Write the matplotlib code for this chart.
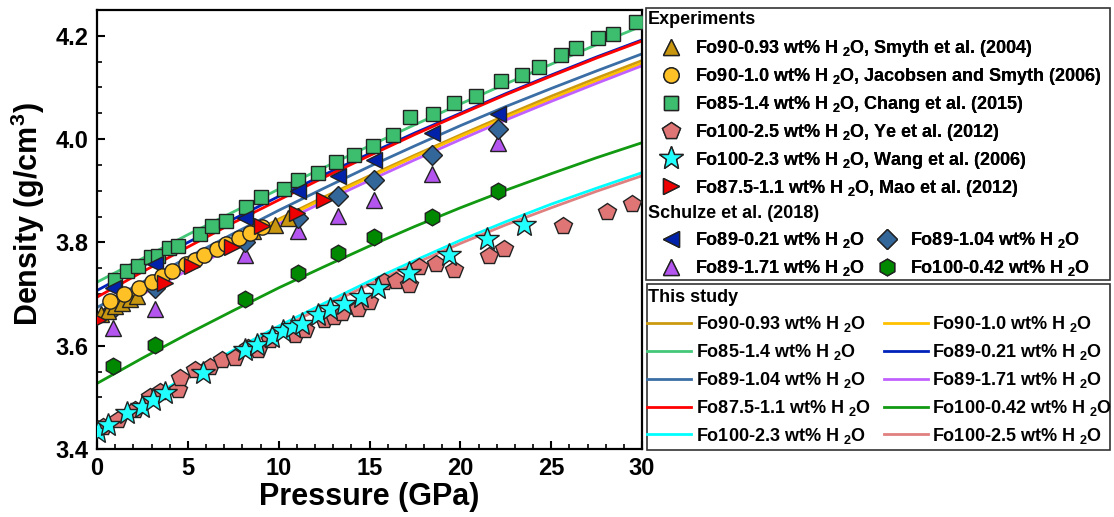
import matplotlib
matplotlib.use('Agg')
import matplotlib.pyplot as plt
from matplotlib.patches import Rectangle

plt.rcParams['font.family'] = ['Liberation Sans', 'DejaVu Sans']
plt.rcParams['font.weight'] = 'bold'
plt.rcParams['mathtext.fontset'] = 'custom'
plt.rcParams['mathtext.rm'] = 'Liberation Sans:bold'
plt.rcParams['mathtext.bf'] = 'Liberation Sans:bold'
plt.rcParams['mathtext.default'] = 'bf'

smyth_p = [0.2, 0.6, 1.0, 1.4, 1.8, 2.2, 8.6, 9.8, 10.5]
smyth_d = [3.662, 3.668, 3.676, 3.683, 3.690, 3.697, 3.823, 3.833, 3.848]

jac_p = [0.7, 1.5, 2.3, 3.0, 3.6, 4.1, 4.9, 5.4, 5.9, 6.6, 7.1, 7.8, 8.4, 9.1]
jac_d = [3.687, 3.700, 3.712, 3.724, 3.735, 3.744, 3.758, 3.766, 3.775,
         3.787, 3.796, 3.808, 3.818, 3.830]

chang_p = [0.99, 1.65, 2.26, 2.98, 3.36, 3.97, 4.47, 5.68, 6.34, 7.12, 8.22,
           9.05, 10.31, 11.09, 12.14, 13.18, 14.12, 15.17, 16.27, 17.21, 18.48,
           19.64, 20.85, 22.23, 23.39, 24.33, 25.54, 26.37, 27.58, 28.41, 29.68]
chang_d = [3.727, 3.744, 3.754, 3.771, 3.773, 3.790, 3.794, 3.817, 3.831,
           3.841, 3.868, 3.887, 3.904, 3.920, 3.935, 3.955, 3.970, 3.987,
           4.007, 4.042, 4.048, 4.069, 4.084, 4.113, 4.125, 4.140, 4.163,
           4.177, 4.196, 4.204, 4.227]

ye_p = [0.33, 1.16, 2.10, 2.92, 3.47, 4.47, 4.58, 5.41, 6.23, 6.89, 7.61,
        8.33, 8.88, 9.54, 10.92, 11.47, 12.47, 13.02, 13.51, 14.34, 14.95,
        15.77, 16.44, 17.15, 17.71, 18.64, 19.64, 21.57, 22.39, 25.65, 28.08,
        29.45]
ye_d = [3.443, 3.456, 3.475, 3.500, 3.510, 3.514, 3.537, 3.553, 3.558,
        3.572, 3.576, 3.595, 3.591, 3.611, 3.620, 3.630, 3.649, 3.655,
        3.663, 3.672, 3.684, 3.723, 3.725, 3.717, 3.752, 3.759, 3.746,
        3.773, 3.788, 3.831, 3.858, 3.875]

wang_p = [0.06, 0.61, 1.65, 2.48, 3.09, 3.75, 5.85, 8.16, 8.83, 9.65, 10.26,
          10.81, 11.31, 12.19, 12.85, 13.57, 14.51, 15.45, 17.16, 19.36,
          21.46, 23.5]
wang_d = [3.433, 3.446, 3.469, 3.481, 3.495, 3.508, 3.547, 3.591, 3.601,
          3.616, 3.628, 3.636, 3.643, 3.659, 3.671, 3.680, 3.694, 3.711,
          3.740, 3.775, 3.806, 3.833]

mao_p = [0.05, 3.75, 5.24, 7.45, 9.1, 11.03, 12.47]
mao_d = [3.649, 3.721, 3.754, 3.792, 3.831, 3.856, 3.883]

schulze_p = [0.88, 3.2, 8.16, 11.06, 13.26, 15.25, 18.42, 22.09]
s021_d = [3.711, 3.759, 3.848, 3.900, 3.929, 3.960, 4.011, 4.049]
s104_d = [3.671, 3.711, 3.800, 3.848, 3.889, 3.920, 3.970, 4.020]
s171_d = [3.634, 3.672, 3.775, 3.823, 3.852, 3.883, 3.933, 3.993]
s042_d = [3.560, 3.601, 3.690, 3.740, 3.779, 3.810, 3.850, 3.899]

# ---- this study curves (read every 2.5 GPa) ----
calc_p = [0, 2.5, 5, 7.5, 10, 12.5, 15, 17.5, 20, 22.5, 25, 27.5, 30]
c_fo90_093 = [3.662, 3.710, 3.756, 3.801, 3.845, 3.888, 3.929, 3.969, 4.008,
              4.046, 4.083, 4.118, 4.152]
c_fo90_10 = [3.660, 3.708, 3.754, 3.799, 3.842, 3.885, 3.926, 3.966, 4.005,
             4.042, 4.078, 4.113, 4.147]
c_fo85_14 = [3.723, 3.769, 3.815, 3.859, 3.903, 3.945, 3.987, 4.028, 4.068,
             4.107, 4.145, 4.183, 4.219]
c_fo89_021 = [3.707, 3.754, 3.800, 3.845, 3.889, 3.931, 3.972, 4.012, 4.050,
              4.088, 4.124, 4.159, 4.192]
c_fo89_104 = [3.674, 3.723, 3.771, 3.817, 3.862, 3.905, 3.947, 3.987, 4.026,
              4.063, 4.098, 4.132, 4.165]
c_fo89_171 = [3.652, 3.700, 3.746, 3.792, 3.836, 3.879, 3.920, 3.960, 3.999,
              4.037, 4.073, 4.108, 4.142]
c_fo875_11 = [3.694, 3.743, 3.791, 3.838, 3.882, 3.926, 3.968, 4.009, 4.048,
              4.086, 4.122, 4.157, 4.190]
c_fo100_042 = [3.527, 3.576, 3.623, 3.668, 3.712, 3.753, 3.793, 3.831, 3.867,
               3.901, 3.933, 3.964, 3.993]
c_fo100_23 = [3.437, 3.490, 3.542, 3.591, 3.638, 3.682, 3.725, 3.765, 3.804,
              3.840, 3.874, 3.905, 3.935]
c_fo100_25 = [3.432, 3.485, 3.537, 3.585, 3.632, 3.676, 3.719, 3.759, 3.798,
              3.834, 3.867, 3.899, 3.929]

H2O = 'H $_2$O'

fig = plt.figure(figsize=(11.14, 5.17), dpi=100)
ax = fig.add_axes([0.0871, 0.1315, 0.4892, 0.8492])

line_specs = [
    (c_fo90_093, '#CC9A10', 'Fo90-0.93 wt% ' + H2O),
    (c_fo90_10, '#FFC000', 'Fo90-1.0 wt% ' + H2O),
    (c_fo85_14, '#44C878', 'Fo85-1.4 wt% ' + H2O),
    (c_fo89_021, '#0022BB', 'Fo89-0.21 wt% ' + H2O),
    (c_fo89_104, '#3A6EA5', 'Fo89-1.04 wt% ' + H2O),
    (c_fo89_171, '#C060FF', 'Fo89-1.71 wt% ' + H2O),
    (c_fo875_11, '#FF0000', 'Fo87.5-1.1 wt% ' + H2O),
    (c_fo100_042, '#119911', 'Fo100-0.42 wt% ' + H2O),
    (c_fo100_23, '#00FFFF', 'Fo100-2.3 wt% ' + H2O),
    (c_fo100_25, '#E08080', 'Fo100-2.5 wt% ' + H2O),
]
line_handles = []
for vals, col, lab in line_specs:
    h, = ax.plot(calc_p, vals, color=col, lw=2, label=lab, zorder=2)
    line_handles.append(h)

mk = dict(linestyle='none', markeredgecolor='#222222', markeredgewidth=1, zorder=3)
h_ye, = ax.plot(ye_p, ye_d, marker='p', ms=13, color='#E07575',
                label='Fo100-2.5 wt% ' + H2O + ', Ye et al. (2012)', **mk)
h_wang, = ax.plot(wang_p, wang_d, marker='*', ms=18, color='#22FFFF',
                  label='Fo100-2.3 wt% ' + H2O + ', Wang et al. (2006)', **mk)
h_chang, = ax.plot(chang_p, chang_d, marker='s', ms=10, color='#3DBE6E',
                   label='Fo85-1.4 wt% ' + H2O + ', Chang et al. (2015)', **mk)
h_s042, = ax.plot(schulze_p, s042_d, marker='h', ms=12, color='#008800',
                  label='Fo100-0.42 wt% ' + H2O, **mk)
h_s171, = ax.plot(schulze_p, s171_d, marker='^', ms=12, color='#B455F0',
                  label='Fo89-1.71 wt% ' + H2O, **mk)
h_s104, = ax.plot(schulze_p, s104_d, marker='D', ms=10, color='#336699',
                  label='Fo89-1.04 wt% ' + H2O, **mk)
h_s021, = ax.plot(schulze_p, s021_d, marker='<', ms=12, color='#0022AA',
                  label='Fo89-0.21 wt% ' + H2O, **mk)
h_smyth, = ax.plot(smyth_p, smyth_d, marker='^', ms=12, color='#C8960F',
                   label='Fo90-0.93 wt% ' + H2O + ', Smyth et al. (2004)', **mk)
h_jac, = ax.plot(jac_p, jac_d, marker='o', ms=11, color='#FFC125',
                 label='Fo90-1.0 wt% ' + H2O + ', Jacobsen and Smyth (2006)', **mk)
h_mao, = ax.plot(mao_p, mao_d, marker='>', ms=12, color='#EE0000',
                 label='Fo87.5-1.1 wt% ' + H2O + ', Mao et al. (2012)', **mk)

ax.set_xlim(0, 30)
ax.set_ylim(3.4, 4.25)
ax.set_xticks([0, 5, 10, 15, 20, 25, 30])
ax.set_yticks([3.4, 3.6, 3.8, 4.0, 4.2])
ax.set_yticklabels(['3.4', '3.6', '3.8', '4.0', '4.2'])
ax.set_xticks(range(0, 31), minor=True)
ax.set_yticks([3.4 + 0.05 * i for i in range(17)], minor=True)
ax.tick_params(which='major', direction='in', length=6, width=1.5,
               labelsize=17, pad=6, top=False, right=False)
ax.tick_params(which='minor', direction='in', length=3.5, width=1.2,
               top=False, right=False)
for s in ax.spines.values():
    s.set_linewidth(1.6)
ax.set_xlabel('Pressure (GPa)', fontsize=22, fontweight='bold', labelpad=1)
ax.set_ylabel('Density (g/cm$^3$)', fontsize=22, fontweight='bold')
ax.yaxis.set_label_coords(-0.092, 0.535)

# ---- legends ----
fs = 13
W, Hpx = 1114, 517
hdr = dict(fontsize=fs, fontweight='bold', ha='left', va='center')
fig.text(648 / W, 1 - 20 / Hpx, 'Experiments', **hdr)
fig.text(648 / W, 1 - 213 / Hpx, 'Schulze et al. (2018)', **hdr)
fig.text(648 / W, 1 - 298 / Hpx, 'This study', **hdr)

mleg = dict(loc='upper left', frameon=False, fontsize=fs, borderpad=0,
            borderaxespad=0, handlelength=1.6, handletextpad=0.5)
legA = fig.legend(handles=[h_smyth, h_jac, h_chang, h_ye, h_wang, h_mao],
                  bbox_to_anchor=(657 / W, 1 - 38 / Hpx), labelspacing=0.385,
                  **mleg)
fig.add_artist(legA)
legB = fig.legend(handles=[h_s021, h_s171, h_s104, h_s042], ncol=2,
                  columnspacing=0.4, bbox_to_anchor=(657 / W, 1 - 230 / Hpx),
                  labelspacing=0.44, **mleg)
fig.add_artist(legB)

# "This study": row-major order like the reference
order = [0, 2, 4, 6, 8, 1, 3, 5, 7, 9]
legC = fig.legend(handles=[line_handles[i] for i in order], ncol=2,
                  loc='upper left', frameon=False, fontsize=fs, borderpad=0,
                  borderaxespad=0, handlelength=2.45, handletextpad=0.25,
                  labelspacing=0.44, columnspacing=0.72,
                  bbox_to_anchor=(647 / W, 1 - 314 / Hpx))

fig.add_artist(Rectangle((646 / W, 1 - 280 / Hpx), 464 / W, 272 / Hpx,
                         transform=fig.transFigure, fill=False,
                         edgecolor='#333333', lw=1.2))
fig.add_artist(Rectangle((647 / W, 1 - 450 / Hpx), 463 / W, 166 / Hpx,
                         transform=fig.transFigure, fill=False,
                         edgecolor='#333333', lw=1.2))

fig.savefig('out.png', dpi=100)
